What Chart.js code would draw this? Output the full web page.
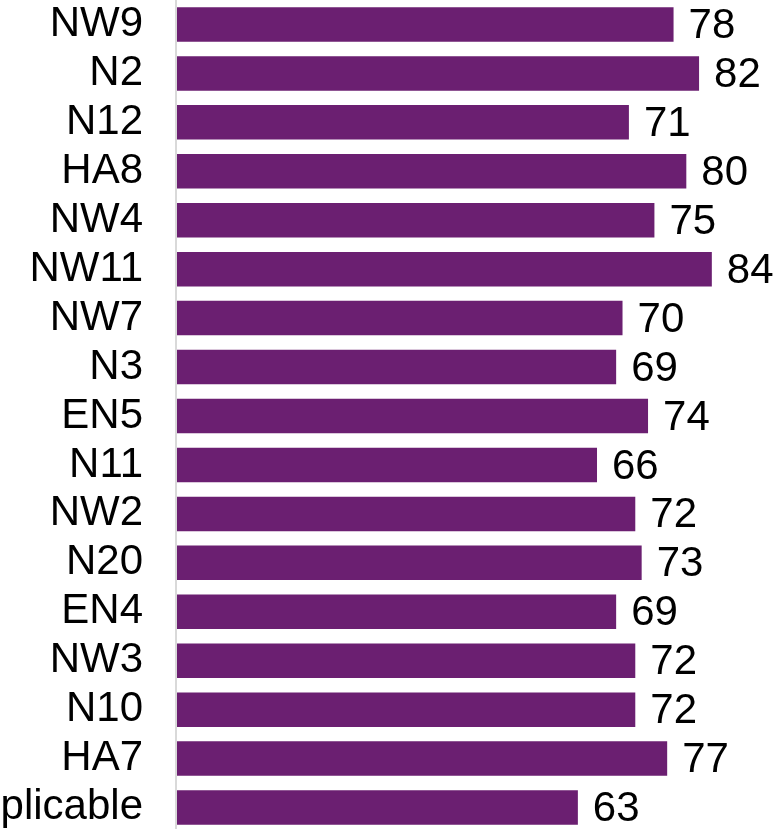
<!DOCTYPE html>
<html>
<head>
<meta charset="utf-8">
<script src="https://cdn.jsdelivr.net/npm/chart.js@4"></script>
<style>
html, body { margin: 0; padding: 0; overflow: hidden; background: #fff; }
canvas { display: block; }
</style>
</head>
<body>
<canvas id="chart" width="782" height="832"></canvas>
<script>
const areas = ['NW9', 'N2', 'N12', 'HA8', 'NW4', 'NW11', 'NW7', 'N3', 'EN5', 'N11', 'NW2', 'N20', 'EN4', 'NW3', 'N10', 'HA7', 'Not applicable'];
const scores = [78, 82, 71, 80, 75, 84, 70, 69, 74, 66, 72, 73, 69, 72, 72, 77, 63];

const barColor = '#6B1F71';
const font = '"Liberation Sans", Arial, sans-serif';

// value labels at the end of each bar
const valueLabels = {
    id: 'valueLabels',
    afterDatasetsDraw(chart) {
        const ctx = chart.ctx;
        const meta = chart.getDatasetMeta(0);
        ctx.save();
        ctx.fillStyle = '#000';
        ctx.font = '42px ' + font;
        ctx.textAlign = 'left';
        ctx.textBaseline = 'middle';
        meta.data.forEach((bar, i) => {
            ctx.fillText(scores[i], bar.x + 15, bar.y + 2);
        });
        ctx.restore();
    }
};

const ctx = document.getElementById('chart').getContext('2d');
let chart = new Chart(ctx, {
    type: 'bar',
    data: {
        labels: areas,
        datasets: [{
            data: scores,
            backgroundColor: barColor,
            borderWidth: 0,
            categoryPercentage: 1,
            barPercentage: 0.705
        }]
    },
    options: {
        indexAxis: 'y',
        responsive: false,
        animation: false,
        layout: { padding: 0 },
        plugins: {
            legend: { display: false },
            tooltip: { enabled: false }
        },
        scales: {
            x: {
                display: false,
                min: 0,
                max: 95
            },
            y: {
                afterFit(scale) {
                    scale.width = 176;
                    scale.paddingTop = 0;
                    scale.paddingBottom = 0;
                },
                grid: { display: false, drawTicks: false },
                border: { display: true, color: '#d9d9d9', width: 2, z: 1 },
                ticks: {
                    color: '#000',
                    padding: 33,
                    autoSkip: false,
                    font: { family: font, size: 42 }
                }
            }
        }
    },
    plugins: [valueLabels]
});
</script>
</body>
</html>
